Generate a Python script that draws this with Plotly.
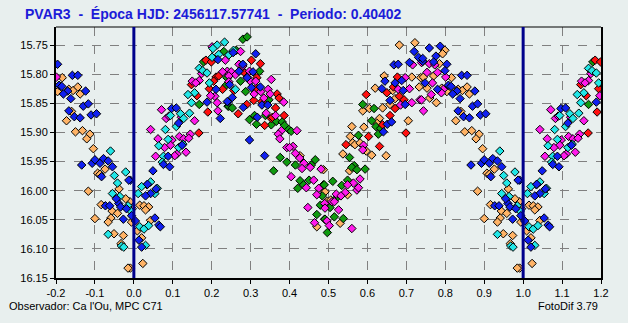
import numpy as np
import plotly.graph_objects as go

# ---- data (phase in [0,1), magnitude) ----
blue_phase = [0.216,0.211,0.188,0.222,0.242,0.097,0.109,0.115,0.124,0.088,0.076,0.092,0.049,0.991,0.035,0.043,0.030,0.057,0.004,0.054,0.064,0.068,0.013,0.020,
              0.313,0.255,0.280,0.270,0.306,0.291,0.246,0.325,0.302,0.253,0.240,0.329,0.344,0.281,0.317,0.297,0.336,
              0.720,0.731,0.742,0.668,0.679,0.708,0.645,0.671,0.688,0.637,0.692,0.658,0.697,0.651,0.662,0.641,
              0.759,0.787,0.776,0.742,0.770,0.804,0.799,0.748,0.842,0.856,0.780,0.808,0.815,0.830,0.819,0.876,0.838,0.870,0.883,0.833,0.847,0.862,0.890,0.904,
              0.866,0.893,0.900,0.913,0.922,0.934,0.945,0.917,0.987,0.927,0.938,0.961,0.955,0.966,0.981,0.973,0.994]
blue_mag = [15.775,15.826,15.848,15.876,15.848,15.859,15.858,15.884,15.922,15.941,15.955,15.959,15.966,15.982,15.989,16.005,16.009,15.997,16.052,16.047,16.059,16.062,16.085,16.097,
            15.765,15.763,15.783,15.795,15.796,15.806,15.818,15.822,15.823,15.840,15.847,15.853,15.853,15.857,15.874,15.913,15.940,
            15.761,15.771,15.778,15.784,15.783,15.780,15.812,15.815,15.811,15.825,15.828,15.845,15.852,15.886,15.882,15.899,
            15.755,15.752,15.769,15.773,15.779,15.783,15.794,15.815,15.802,15.802,15.826,15.819,15.821,15.829,15.834,15.829,15.842,15.855,15.851,15.863,15.873,15.875,15.870,15.868,
            15.956,15.953,15.947,15.953,15.945,15.949,15.959,15.976,15.982,16.026,16.026,16.022,16.014,16.028,16.031,16.049,16.043]

cyan_phase = [0.233,0.214,0.203,0.218,0.201,0.168,0.177,0.188,0.194,0.156,0.139,0.148,0.143,0.120,0.094,0.128,0.109,0.081,0.088,0.064,0.115,0.126,0.076,0.073,
              0.043,0.034,0.020,0.011,0.054,0.060,0.015,0.026,0.038,0.030,
              0.244,0.256,0.261,
              0.940,0.979,0.950,0.958,0.945,0.964,0.985,0.992,0.934,0.968,0.974]
cyan_mag = [15.745,15.750,15.756,15.766,15.771,15.790,15.794,15.798,15.815,15.832,15.835,15.849,15.867,15.868,15.871,15.876,15.890,15.895,15.912,15.923,15.926,15.920,15.941,15.951,
            15.985,15.990,15.993,16.005,16.005,15.996,16.062,16.066,16.060,16.094,
            15.767,15.759,15.826,
            15.932,15.968,15.974,15.987,16.005,16.010,16.026,16.035,16.075,16.095,16.097]

magenta_phase = [0.201,0.235,0.174,0.240,0.228,0.150,0.168,0.159,0.208,0.197,0.214,0.216,0.071,0.083,0.090,0.122,0.156,0.043,0.145,0.117,0.128,0.141,0.062,0.098,0.094,0.079,0.134,0.111,0.105,0.056,
                 0.274,0.270,0.280,0.250,0.261,0.244,0.297,0.291,0.299,0.313,0.353,0.244,0.326,0.309,0.345,0.350,0.334,0.385,0.340,0.364,0.379,0.371,0.375,0.419,0.393,0.409,0.400,0.415,0.426,0.437,0.432,0.453,0.481,0.404,0.443,0.462,0.475,0.470,0.490,0.447,0.464,
                 0.716,0.697,0.708,0.679,0.685,0.714,0.735,0.739,0.590,0.588,0.581,0.564,0.549,0.573,0.543,0.577,0.520,0.532,0.509,0.515,0.491,0.526,0.496,0.502,0.560,
                 0.742,0.759,0.773,0.753,0.780,0.801,0.767,0.795,0.790,0.764,0.739,0.744]
magenta_mag = [15.753,15.776,15.799,15.795,15.796,15.812,15.811,15.815,15.838,15.837,15.849,15.863,15.861,15.876,15.872,15.874,15.880,15.895,15.903,15.907,15.911,15.910,15.911,15.913,15.922,15.926,15.934,15.937,15.940,15.941,
               15.761,15.783,15.786,15.796,15.801,15.803,15.795,15.805,15.812,15.812,15.809,15.813,15.830,15.834,15.826,15.834,15.841,15.848,15.867,15.871,15.897,15.903,15.911,15.897,15.926,15.924,15.926,15.936,15.944,15.953,15.962,15.960,15.963,15.976,15.995,15.982,15.996,16.007,16.022,16.029,16.055,
               15.784,15.806,15.825,15.826,15.853,15.849,15.844,15.780,15.922,15.930,15.980,15.987,15.990,15.999,16.003,15.995,16.006,16.009,16.019,16.019,16.030,16.033,16.052,16.060,16.065,
               15.778,15.782,15.784,15.797,15.797,15.805,15.815,15.826,15.832,15.835,15.844,15.863]

red_phase = [0.185,0.199,0.211,0.218,0.205,0.194,0.228,0.148,0.162,0.190,0.167,
             0.302,0.325,0.285,0.316,0.257,0.315,0.368,0.373,0.308,0.290,0.364,0.268,0.329,0.353,0.386,0.336,0.356,
             0.597,0.677,0.667,0.650,0.682,0.694,0.671,0.658,0.639,0.603,0.545,0.631,0.699]
red_mag = [15.776,15.779,15.805,15.803,15.812,15.825,15.826,15.818,15.837,15.865,15.901,
           15.776,15.782,15.798,15.806,15.828,15.824,15.834,15.841,15.845,15.852,15.858,15.868,15.847,15.876,15.871,15.888,15.874,
           15.835,15.805,15.822,15.832,15.838,15.844,15.859,15.871,15.887,15.907,15.921,15.924,15.901]

green_phase = [0.231,0.179,0.237,0.168,0.242,0.241,
               0.280,0.291,0.263,0.323,0.274,0.239,0.287,0.244,0.253,0.347,0.297,0.310,0.315,0.338,0.353,0.366,0.381,0.387,0.398,0.404,0.376,0.393,0.415,0.359,0.456,0.466,0.427,0.436,0.421,0.450,0.487,0.484,0.479,0.470,0.490,
               0.588,0.617,0.611,0.622,0.634,0.628,0.577,0.554,0.566,0.560,0.573,0.594,0.511,0.549,0.534,0.489,0.520,0.504,0.515,0.538,0.491,0.497]
green_mag = [15.761,15.779,15.819,15.852,15.855,15.806,
             15.740,15.736,15.759,15.795,15.812,15.806,15.830,15.855,15.858,15.844,15.878,15.871,15.886,15.871,15.887,15.881,15.882,15.888,15.895,15.898,15.943,15.951,15.956,15.966,15.956,15.947,15.983,15.990,15.996,15.982,15.990,16.009,16.025,16.041,16.049,
             15.852,15.859,15.880,15.890,15.893,15.903,15.905,15.943,15.957,15.960,15.964,15.963,15.984,15.982,15.991,15.990,16.013,16.029,16.045,16.048,16.049,16.072]

orange_phase = [0.990,0.996,0.015,0.026,0.038,0.030,0.043,0.009,0.020,0.023,0.991,
                0.427,0.490,0.470,
                0.682,0.722,0.643,0.620,0.714,0.737,0.665,0.671,0.658,0.639,0.605,0.588,0.705,0.631,0.624,0.560,0.591,0.562,0.568,0.581,0.597,0.611,0.648,0.537,0.554,0.487,0.491,0.549,0.497,0.506,0.530,0.733,0.556,
                0.799,0.793,0.785,0.770,0.744,0.816,0.753,0.760,0.791,0.804,0.833,0.844,0.856,0.862,0.777,0.840,0.827,0.850,0.868,0.887,0.879,0.896,0.907,0.913,0.926,0.962,0.979,0.883,0.916,0.944,0.958,0.900,0.941,0.934,0.949,0.973,0.967,0.985,0.994]
orange_mag = [16.019,16.031,16.025,16.026,16.028,16.033,16.051,16.069,16.081,16.125,16.133,
              15.940,16.002,16.062,
              15.750,15.746,15.803,15.824,15.805,15.806,15.828,15.842,15.852,15.858,15.859,15.863,15.880,15.876,15.884,15.890,15.891,15.918,15.921,15.918,15.932,15.939,15.940,15.937,15.966,15.964,16.002,16.007,16.018,16.016,16.056,15.822,15.907,
              15.759,15.765,15.782,15.803,15.805,15.806,15.824,15.841,15.824,15.830,15.826,15.828,15.822,15.834,15.849,15.864,15.880,15.899,15.897,15.903,15.911,15.928,15.970,15.972,15.963,15.997,16.014,16.001,16.024,16.035,16.039,16.048,16.047,16.054,16.074,16.077,16.091,16.133,16.054]

x_ticks = [-0.2,-0.1,0.0,0.1,0.2,0.3,0.4,0.5,0.6,0.7,0.8,0.9,1.0,1.1,1.2]
y_ticks = [15.75,15.80,15.85,15.90,15.95,16.00,16.05,16.10,16.15]
x_range = [-0.2, 1.2]
y_range = [16.15, 15.719]
epoch_lines = [0.0, 1.0]

title_text = "PVAR3\u00a0\u00a0-\u00a0\u00a0Época HJD: 2456117.57741\u00a0\u00a0-\u00a0\u00a0Periodo: 0.40402"
observer_text = "Observador: Ca l'Ou, MPC C71"
software_text = "FotoDif 3.79"

series = [
    ("orange", orange_phase, orange_mag, "#ffb366"),
    ("green", green_phase, green_mag, "#0f9a0f"),
    ("red", red_phase, red_mag, "#ff1010"),
    ("magenta", magenta_phase, magenta_mag, "#ff1aeb"),
    ("cyan", cyan_phase, cyan_mag, "#22e6e6"),
    ("blue", blue_phase, blue_mag, "#1020f0"),
]

def folded(ph, mg):
    ph = np.asarray(ph); mg = np.asarray(mg)
    xs = np.concatenate([ph - 1, ph, ph + 1])
    ys = np.concatenate([mg, mg, mg])
    keep = (xs >= x_range[0]) & (xs <= x_range[1])
    return xs[keep], ys[keep]

fig = go.Figure()
for name, ph, mg, col in series:
    xs, ys = folded(ph, mg)
    fig.add_trace(go.Scatter(
        x=xs, y=ys, mode="markers", name=name, showlegend=False,
        marker=dict(symbol="diamond", size=6.5, color=col, line=dict(color="black", width=1)),
        cliponaxis=True, hoverinfo="skip"))

bg = "#e8efee"
tickfont = dict(family="Liberation Sans, Arial, sans-serif", size=11, color="black")

fig.update_layout(
    width=628, height=323,
    margin=dict(l=56, r=27, t=27, b=45),
    paper_bgcolor=bg, plot_bgcolor=bg,
    title=dict(text=title_text, x=25/628, xref="container", xanchor="left",
               y=1 - 14/323, yref="container", yanchor="middle",
               font=dict(family="Liberation Sans, Arial, sans-serif", size=14, color="#1c1cd8", weight="bold")),
    xaxis=dict(range=x_range, tickvals=x_ticks, ticktext=[f"{v:.1f}" for v in x_ticks],
               showgrid=True, gridcolor="#808080", griddash="dash", gridwidth=1,
               zeroline=False, showline=True, linecolor="black", linewidth=2,
               ticks="outside", ticklen=4, tickcolor="black", tickfont=tickfont),
    yaxis=dict(range=y_range, tickvals=y_ticks, ticktext=[f"{v:.2f}" for v in y_ticks],
               showgrid=True, gridcolor="#808080", griddash="dash", gridwidth=1,
               zeroline=False, showline=True, linecolor="black", linewidth=2, mirror=True,
               ticks="outside", ticklen=4, tickcolor="black", tickfont=tickfont),
)

# top border of plot area
fig.add_shape(type="line", xref="paper", yref="paper", x0=0, x1=1, y0=1, y1=1,
              line=dict(color="black", width=1), layer="above")
for xv in epoch_lines:
    fig.add_shape(type="line", xref="x", yref="paper", x0=xv, x1=xv, y0=0, y1=1,
                  line=dict(color="#00008c", width=3), layer="above")

foot = dict(family="Liberation Sans, Arial, sans-serif", size=11, color="black")
fig.add_annotation(text=observer_text, xref="paper", yref="paper",
                   x=(7-56)/545, y=(278-306)/251, xanchor="left", yanchor="middle",
                   showarrow=False, font=foot)
fig.add_annotation(text=software_text, xref="paper", yref="paper",
                   x=(600-56)/545, y=(278-306)/251, xanchor="right", yanchor="middle",
                   showarrow=False, font=foot)

fig.write_html("out.html", config={"displayModeBar": False},
               post_script="document.body.style.margin='0';document.body.style.background='#e8efee';")
